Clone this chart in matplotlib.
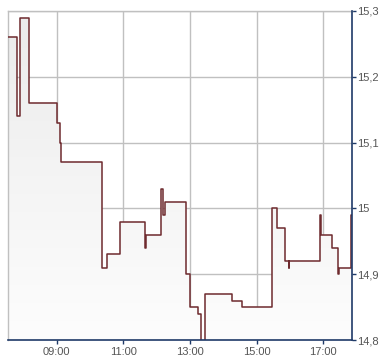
import numpy as np
import matplotlib.pyplot as plt
from matplotlib.ticker import FixedLocator

# Intraday price steps (time, price)
times = ["07:32", "07:48", "07:53", "08:09", "09:00", "09:05", "09:07",
         "10:21", "10:30", "10:54", "11:39", "11:40", "12:07", "12:11",
         "12:15", "12:53", "13:00", "13:14", "13:19", "13:27", "14:16",
         "14:33", "15:28", "15:36", "15:52", "15:58", "15:59", "16:55",
         "16:56", "17:16", "17:27", "17:28", "17:51", "17:52"]
prices = [15.26, 15.14, 15.29, 15.16, 15.13, 15.10, 15.07,
          14.91, 14.93, 14.98, 14.94, 14.96, 15.03, 14.99,
          15.01, 14.90, 14.85, 14.84, 14.78, 14.87, 14.86,
          14.85, 15.00, 14.97, 14.92, 14.91, 14.92, 14.99,
          14.96, 14.94, 14.90, 14.91, 14.99, 14.99]

x_ticks = ["09:00", "11:00", "13:00", "15:00", "17:00"]
y_ticks = [14.8, 14.9, 15.0, 15.1, 15.2, 15.3]
y_labels = ["14,8", "14,9", "15", "15,1", "15,2", "15,3"]


def to_hours(s):
    h, m = s.split(":")
    return int(h) + int(m) / 60.0


t = np.array([to_hours(s) for s in times])
p = np.array(prices)
xmin, xmax = to_hours("07:32"), to_hours("17:52")
ymin, ymax = 14.8, 15.3

plt.rcParams['font.family'] = ['Liberation Sans', 'DejaVu Sans']

fig = plt.figure(figsize=(3.9, 3.64), dpi=100)
ax = fig.add_axes([8 / 390, 24 / 364, 344 / 390, 329 / 364])
ax.set_xlim(xmin, xmax)
ax.set_ylim(ymin, ymax)

# gradient fill under the step line
poly = ax.fill_between(t, p, ymin - 1, step='post', color='none')
grad = np.linspace(0, 1, 256).reshape(-1, 1)
img = ax.imshow(grad, extent=[xmin, xmax, ymin, ymax], aspect='auto',
                cmap=plt.matplotlib.colors.LinearSegmentedColormap.from_list(
                    'g', ['#fdfdfd', '#ebebeb']),
                origin='lower', zorder=1)
img.set_clip_path(poly.get_paths()[0], transform=ax.transData)

ax.step(t, p, where='post', color='#6e2a2e', lw=1.1, zorder=3)

# grid
ax.xaxis.set_major_locator(FixedLocator([to_hours(s) for s in x_ticks]))
ax.set_xticklabels(x_ticks)
ax.set_yticks(y_ticks)
ax.set_yticklabels(y_labels)
ax.grid(True, color='#c0c0c0', lw=1.0, zorder=0)
ax.set_axisbelow(True)

ax.yaxis.tick_right()
for side in ['top', 'left']:
    ax.spines[side].set_color('#c0c0c0')
    ax.spines[side].set_linewidth(1.0)
for side in ['right', 'bottom']:
    ax.spines[side].set_color('#1f3a68')
    ax.spines[side].set_linewidth(1.2)
    ax.spines[side].set_zorder(4)

ax.tick_params(axis='both', colors='#1f3a68', labelcolor='#555555',
               labelsize=8, length=3, width=1)
ax.tick_params(axis='x', pad=2)
ax.tick_params(axis='y', pad=1)

fig.savefig('out.png', dpi=100)
